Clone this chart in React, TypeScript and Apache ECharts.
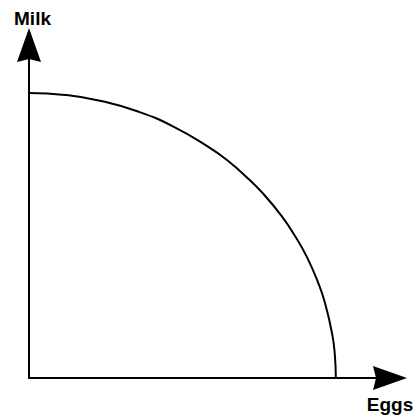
import React, { useEffect, useRef } from "react";
import * as echarts from "echarts";

// Production possibility frontier (Eggs vs Milk)
const eggs = [0, 10, 20, 30, 40, 50, 55, 60, 65, 70, 74, 77, 80, 82, 84, 84.7, 85];
const milk = [85.6, 85.0, 83.2, 80.1, 75.5, 69.2, 65.3, 60.6, 55.2, 48.6, 42.1, 36.3, 28.9, 22.5, 13.1, 7.2, 0];
const xLabel = "Eggs";
const yLabel = "Milk";

const arrowPath = "path://M12,0 L24,34 L12,31 L0,34 Z";

export default function App() {
  const ref = useRef<HTMLDivElement>(null);
  useEffect(() => {
    if (!ref.current) return;
    const chart = echarts.init(ref.current, undefined, { renderer: "svg" });
    const axisCommon = {
      type: "value" as const,
      min: 0,
      max: 100,
      axisLine: {
        show: true,
        symbol: ["none", arrowPath],
        symbolSize: [24, 34],
        lineStyle: { color: "#000", width: 2 },
      },
      axisTick: { show: false },
      axisLabel: { show: false },
      splitLine: { show: false },
    };
    chart.setOption({
      animation: false,
      backgroundColor: "#fff",
      grid: { left: 29, right: 26, top: 45, bottom: 40, containLabel: false },
      xAxis: { ...axisCommon },
      yAxis: { ...axisCommon },
      series: [
        {
          type: "line",
          data: eggs.map((e, i) => [e, milk[i]]),
          smooth: true,
          showSymbol: false,
          symbol: "none",
          lineStyle: { color: "#000", width: 2 },
        },
      ],
      graphic: [
        {
          type: "text",
          x: 32.5,
          y: 18,
          style: {
            text: yLabel,
            font: "bold 19px 'Liberation Sans', Arial, sans-serif",
            fill: "#000",
            align: "center",
            verticalAlign: "middle",
          },
        },
        {
          type: "text",
          x: 390,
          y: 404.5,
          style: {
            text: xLabel,
            font: "bold 19px 'Liberation Sans', Arial, sans-serif",
            fill: "#000",
            align: "center",
            verticalAlign: "middle",
          },
        },
      ],
    });
    return () => chart.dispose();
  }, []);
  return <div ref={ref} style={{ width: 416, height: 418, position: "absolute", left: 0, top: 0 }} />;
}
